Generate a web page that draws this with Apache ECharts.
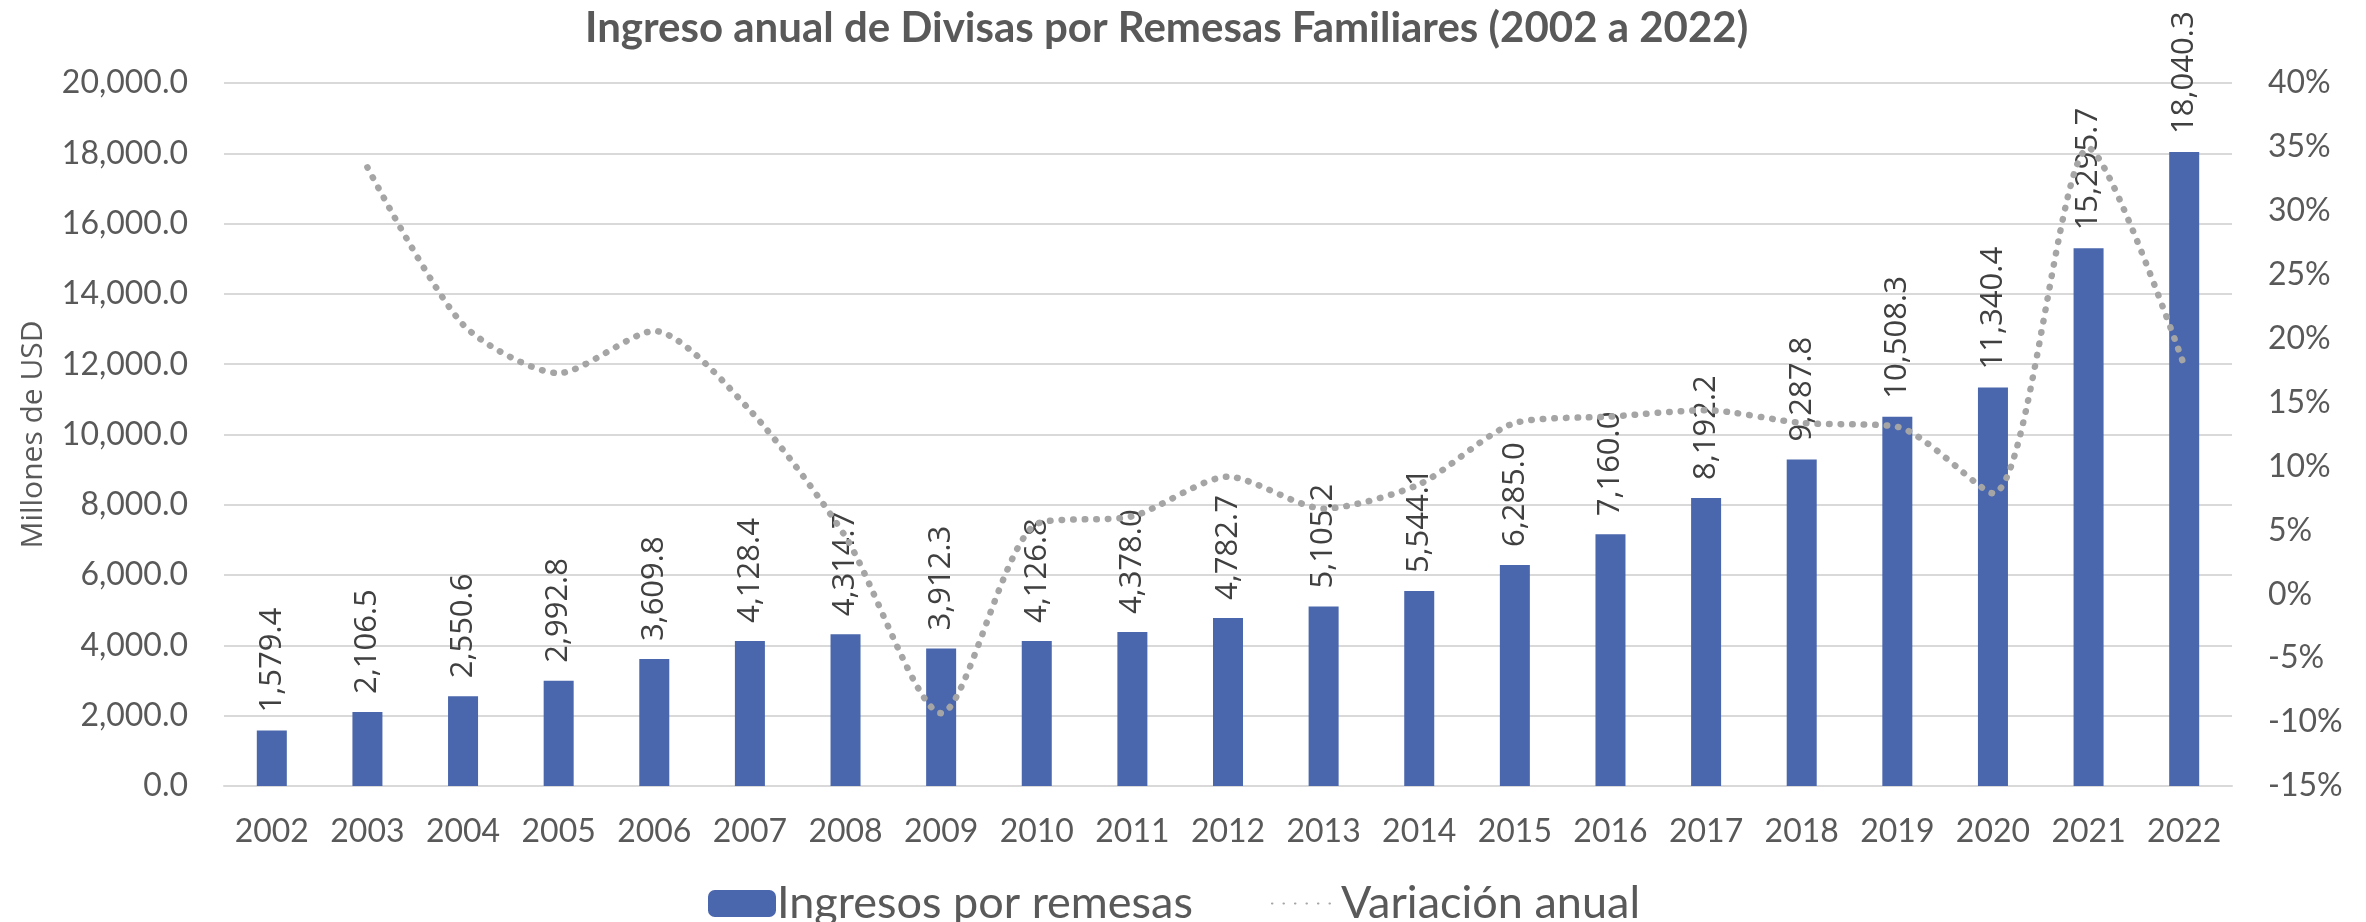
<!DOCTYPE html>
<html>
<head>
<meta charset="utf-8">
<script src="https://cdn.jsdelivr.net/npm/echarts@6/dist/echarts.min.js"></script>
<style>
  html, body { margin: 0; padding: 0; background: #fff; }
  #chart { width: 2366px; height: 922px; }
</style>
</head>
<body>
<div id="chart"></div>
<script>
// categories
const years = ['2002', '2003', '2004', '2005', '2006', '2007', '2008', '2009', '2010', '2011',
  '2012', '2013', '2014', '2015', '2016', '2017', '2018', '2019', '2020', '2021', '2022']

// millones de USD
const ingresos = [1579.4, 2106.5, 2550.6, 2992.8, 3609.8, 4128.4, 4314.7, 3912.3, 4126.8, 4378.0,
  4782.7, 5105.2, 5544.1, 6285.0, 7160.0, 8192.2, 9287.8, 10508.3, 11340.4, 15295.7, 18040.3]

// variacion anual, %
const variacion = [null, 33.4, 21.1, 17.3, 20.6, 14.4, 4.5, -9.3, 5.5, 6.1,
  9.2, 6.7, 8.6, 13.4, 13.9, 14.4, 13.4, 13.1, 7.9, 34.9, 17.9]

const fmtNum = v => Number(v).toLocaleString('en-US', { minimumFractionDigits: 1, maximumFractionDigits: 1 })

const axisFont = { color: '#595959', fontFamily: 'Lato', fontSize: 32 }

const chart = echarts.init(document.getElementById('chart'))

const option = {
  backgroundColor: '#fff',
  animation: false,
  title: {
    text: 'Ingreso anual de Divisas por Remesas Familiares (2002 a 2022)',
    left: 580,
    top: 2,
    textStyle: { color: '#595959', fontFamily: 'Lato', fontWeight: 'bold', fontSize: 42 },
  },
  grid: { left: 224, right: 134, top: 83, bottom: 136 },
  legend: {
    left: 703,
    top: 876,
    itemWidth: 68,
    itemHeight: 27,
    itemGap: 78,
    textStyle: { color: '#595959', fontFamily: 'Lato', fontSize: 45, padding: [0, 0, 0, -4] },
    data: [
      { name: 'Ingresos por remesas' },
      { name: 'Variación anual', itemStyle: { opacity: 0 } },
    ],
  },
  xAxis: {
    type: 'category',
    data: years,
    axisLine: { lineStyle: { color: '#d9d9d9', width: 2 } },
    axisTick: { show: false },
    axisLabel: { ...axisFont, margin: 30, interval: 0 },
  },
  yAxis: [
    {
      type: 'value',
      min: 0,
      max: 20000,
      interval: 2000,
      name: 'Millones de USD',
      nameLocation: 'middle',
      nameGap: 176,
      nameTextStyle: { color: '#595959', fontFamily: 'Open Sans', fontSize: 30 },
      axisLine: { show: false },
      axisTick: { show: false },
      axisLabel: { ...axisFont, margin: 36, formatter: v => fmtNum(v) },
      splitLine: { lineStyle: { color: '#d9d9d9', width: 2 } },
    },
    {
      type: 'value',
      min: -15,
      max: 40,
      interval: 5,
      position: 'right',
      axisLine: { show: false },
      axisTick: { show: false },
      splitLine: { show: false },
      axisLabel: { ...axisFont, margin: 36, formatter: v => v + '%' },
    },
  ],
  series: [
    {
      name: 'Ingresos por remesas',
      type: 'bar',
      data: ingresos,
      barWidth: 30,
      itemStyle: { color: '#4a66ac' },
      label: {
        show: true,
        position: 'top',
        rotate: 90,
        align: 'left',
        verticalAlign: 'middle',
        distance: 18,
        color: '#404040',
        fontFamily: 'Open Sans',
        fontSize: 31,
        formatter: p => fmtNum(p.value),
      },
    },
    {
      name: 'Variación anual',
      type: 'line',
      yAxisIndex: 1,
      data: variacion,
      smooth: 0.25,
      symbol: 'none',
      connectNulls: false,
      lineStyle: { color: '#a5a5a5', width: 6.5, type: [0.5, 11], cap: 'round' },
      itemStyle: { color: '#a5a5a5' },
      z: 3,
    },
  ],
}

chart.setOption(option)
</script>
</body>
</html>
